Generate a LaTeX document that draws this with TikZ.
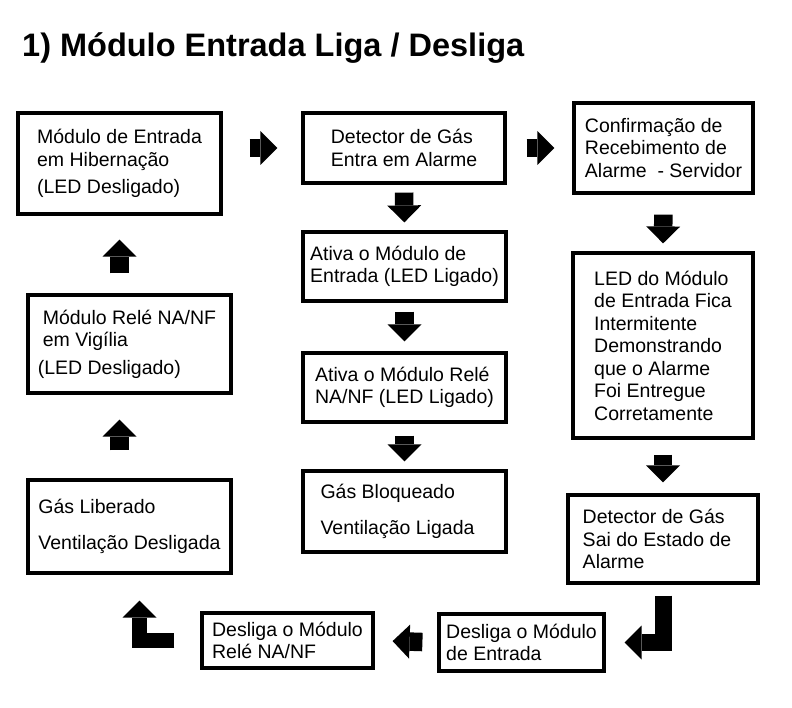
\documentclass[tikz,border=0pt]{standalone}
\usepackage{fontspec}
\setmainfont{Liberation Sans}
\usetikzlibrary{arrows.meta}

\tikzset{
  caixa/.style={draw, line width=3.2pt, inner sep=0pt, align=left,
    font=\fontsize{19.5}{22.5}\selectfont},
  seta/.style={line width=18.5pt, -{Triangle[length=17pt,width=34pt,line width=0pt]}},
}

\begin{document}
\begin{tikzpicture}[x=1pt,y=-1pt]
    \useasboundingbox (0,0) rectangle (792,708);

    % Titulo
    \node[anchor=base west,inner sep=0pt,font=\bfseries\fontsize{32.5}{39}\selectfont] (titulo) at (22,57) {1) Módulo Entrada Liga / Desliga};

    % Coluna esquerda
    \node[caixa,minimum width=203pt,minimum height=101pt] (hiber) at (119.5,163.5) {Módulo de Entrada\\em Hibernação\\[5pt](LED Desligado)};
    \node[caixa,minimum width=203pt,minimum height=98pt] (vigilia) at (129.5,344) {Módulo Relé NA/NF\\em Vigília\\[5pt]\hspace*{-5pt}(LED Desligado)};
    \node[caixa,minimum width=203pt,minimum height=93pt] (liberado) at (129.5,526.5) {Gás Liberado\\[13.5pt]Ventilação Desligada};

    % Coluna central
    \node[caixa,minimum width=202pt,minimum height=70pt] (alarme) at (404,148) {Detector de Gás\\Entra em Alarme};
    \node[caixa,minimum width=203pt,minimum height=69pt] (ativaent) at (404.5,266.5) {Ativa o Módulo de\\Entrada (LED Ligado)};
    \node[caixa,minimum width=203pt,minimum height=69pt] (ativarele) at (404.5,387.5) {Ativa o Módulo Relé\\NA/NF (LED Ligado)};
    \node[caixa,minimum width=203pt,minimum height=81pt] (bloqueado) at (404.5,511.5) {Gás Bloqueado\\[13.5pt]Ventilação Ligada\hspace*{14pt}};

    % Coluna direita
    \node[caixa,minimum width=179pt,minimum height=90pt] (servidor) at (663.5,148) {Confirmação de\\Recebimento de\\Alarme~ - Servidor};
    \node[caixa,minimum width=180pt,minimum height=185pt] (pisca) at (663,345.5) {LED do Módulo\\de Entrada Fica\\Intermitente\\Demonstrando\\que o Alarme\\Foi Entregue\\Corretamente};
    \node[caixa,minimum width=190pt,minimum height=88pt] (saida) at (663,539) {Detector de Gás\\Sai do Estado de\rule{12pt}{0pt}\\Alarme};

    % Linha de baixo
    \node[caixa,minimum width=165pt,minimum height=57pt] (deslent) at (521.5,642.5) {Desliga o Módulo\\de Entrada};
    \node[caixa,minimum width=171pt,minimum height=55pt] (deslrele) at (287.5,640.5) {Desliga o Módulo\\Relé NA/NF};

    % Setas
    \draw[seta,shorten <=27pt,shorten >=24pt] (hiber.east |- alarme.west) -- (alarme.west);
    \draw[seta,shorten <=20pt,shorten >=18pt] (alarme.east) -- (servidor.west);
    \draw[seta,shorten <=8pt,shorten >=8pt] (alarme.south) -- (ativaent.north);
    \draw[seta,shorten <=9pt,shorten >=10pt] (ativaent.south) -- (ativarele.north);
    \draw[seta,shorten <=12pt,shorten >=8pt] (ativarele.south) -- (bloqueado.north);
    \draw[seta,shorten <=20pt,shorten >=8pt] (servidor.south) -- (pisca.north);
    \draw[seta,shorten <=15pt,shorten >=11pt] (pisca.south) -- (saida.north);
    \draw[seta,line width=17pt,shorten <=11pt,shorten >=19pt] (saida.south) |- (deslent.east);
    \draw[seta,shorten <=15pt,shorten >=18pt] (deslent.west) -- (deslrele.east);
    \draw[seta,line width=15.5pt,shorten <=26pt,shorten >=26pt] (deslrele.west) -| ([xshift=10pt]liberado.south);
    \draw[seta,shorten <=28pt,shorten >=25pt] (liberado.north -| hiber.south) -- (vigilia.south -| hiber.south);
    \draw[seta,shorten <=20pt,shorten >=24pt] (vigilia.north -| hiber.south) -- (hiber.south);
\end{tikzpicture}
\end{document}
